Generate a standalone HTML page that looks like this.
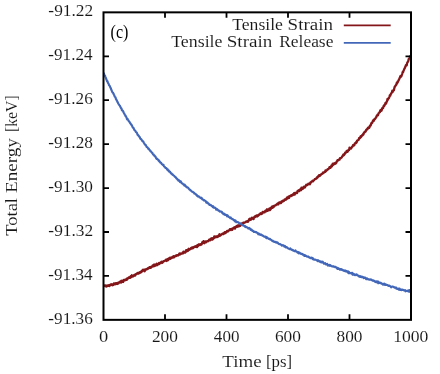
<!DOCTYPE html>
<html><head><meta charset="utf-8"><title>plot</title><style>html,body{margin:0;padding:0;background:#fff}</style></head><body>
<svg width="440" height="374" viewBox="0 0 440 374" style="display:block;will-change:transform">
<rect width="440" height="374" fill="#fff"/>
<g font-family="Liberation Serif, serif" font-size="16.6" fill="#161616" stroke="#fff" stroke-width="0.08">
<text x="48.35" y="16.00" textLength="44.90" lengthAdjust="spacingAndGlyphs">-91.22</text>
<text x="48.36" y="59.93" textLength="44.20" lengthAdjust="spacingAndGlyphs">-91.24</text>
<text x="48.36" y="103.86" textLength="44.45" lengthAdjust="spacingAndGlyphs">-91.26</text>
<text x="48.36" y="147.79" textLength="44.60" lengthAdjust="spacingAndGlyphs">-91.28</text>
<text x="48.36" y="191.71" textLength="44.60" lengthAdjust="spacingAndGlyphs">-91.30</text>
<text x="48.35" y="235.64" textLength="44.90" lengthAdjust="spacingAndGlyphs">-91.32</text>
<text x="48.36" y="279.57" textLength="44.20" lengthAdjust="spacingAndGlyphs">-91.34</text>
<text x="48.36" y="323.50" textLength="44.45" lengthAdjust="spacingAndGlyphs">-91.36</text>
<text x="98.90" y="341.80" textLength="9.20" lengthAdjust="spacingAndGlyphs">0</text>
<text x="151.94" y="341.80" textLength="26.02" lengthAdjust="spacingAndGlyphs">200</text>
<text x="213.87" y="341.80" textLength="25.58" lengthAdjust="spacingAndGlyphs">400</text>
<text x="274.96" y="341.80" textLength="26.01" lengthAdjust="spacingAndGlyphs">600</text>
<text x="336.54" y="341.80" textLength="25.92" lengthAdjust="spacingAndGlyphs">800</text>
<text x="393.15" y="341.80" textLength="35.22" lengthAdjust="spacingAndGlyphs">1000</text>
<text x="222.36" y="367.10" textLength="39.28" lengthAdjust="spacingAndGlyphs">Time</text>
<text x="265.95" y="367.10" textLength="26.20" lengthAdjust="spacingAndGlyphs">[ps]</text>
<g transform="translate(17.2,235.4) rotate(-90)">
<text x="-0.32" y="0.00" textLength="37.68" lengthAdjust="spacingAndGlyphs">Total</text>
<text x="42.35" y="0.00" textLength="55.02" lengthAdjust="spacingAndGlyphs">Energy</text>
<text x="103.33" y="0.00" textLength="36.85" lengthAdjust="spacingAndGlyphs">[keV]</text>
</g>
<text x="232.19" y="29.50" textLength="50.71" lengthAdjust="spacingAndGlyphs">Tensile</text>
<text x="287.63" y="29.50" textLength="45.46" lengthAdjust="spacingAndGlyphs">Strain</text>
<text x="171.19" y="46.90" textLength="51.32" lengthAdjust="spacingAndGlyphs">Tensile</text>
<text x="226.72" y="46.90" textLength="45.67" lengthAdjust="spacingAndGlyphs">Strain</text>
<text x="279.20" y="46.90" textLength="54.21" lengthAdjust="spacingAndGlyphs">Release</text>
</g>
<text x="110.59" y="37.6" font-family="Liberation Serif, serif" font-size="18.5" fill="#000" textLength="17.81" lengthAdjust="spacingAndGlyphs">(c)</text>
<clipPath id="cp"><rect x="103.5" y="12.35" width="307.5" height="307.5"/></clipPath><g clip-path="url(#cp)">
<path d="M103.50,285.90L103.90,286.06L104.30,285.75L104.70,285.41L105.10,285.65L105.50,285.35L105.90,285.93L106.30,286.62L106.70,285.60L107.10,285.50L107.50,286.09L107.90,285.99L108.30,285.81L108.70,285.20L109.10,285.66L109.50,286.01L109.90,284.83L110.30,285.26L110.70,284.41L111.10,284.68L111.50,284.30L111.90,285.11L112.30,284.45L112.70,285.20L113.10,285.02L113.50,284.71L113.90,283.31L114.30,284.26L114.70,284.39L115.10,284.32L115.50,283.26L115.90,283.68L116.30,283.24L116.70,283.18L117.10,284.04L117.50,282.86L117.90,283.12L118.30,283.46L118.70,282.49L119.10,282.58L119.50,282.54L119.90,282.34L120.30,281.46L120.70,282.00L121.10,282.53L121.50,280.75L121.90,281.89L122.30,281.30L122.70,280.70L123.10,281.96L123.50,281.08L123.90,279.81L124.30,280.32L124.70,280.40L125.10,279.78L125.50,280.06L125.90,279.45L126.30,279.65L126.70,279.87L127.10,278.51L127.50,278.78L127.90,278.21L128.30,278.32L128.70,277.39L129.10,277.51L129.50,277.51L129.90,277.90L130.30,277.83L130.70,276.26L131.10,276.34L131.50,276.93L131.90,275.27L132.30,275.90L132.70,275.90L133.10,276.44L133.50,275.93L133.90,275.17L134.30,274.95L134.70,274.81L135.10,275.59L135.50,274.31L135.90,274.18L136.30,274.34L136.70,273.88L137.10,273.64L137.50,272.93L137.90,273.34L138.30,272.89L138.70,273.58L139.10,273.09L139.50,272.51L139.90,272.69L140.30,271.93L140.70,272.49L141.10,271.71L141.50,271.84L141.90,270.61L142.30,271.32L142.70,270.01L143.10,269.64L143.50,270.41L143.90,269.90L144.30,270.30L144.70,271.27L145.10,269.40L145.50,269.33L145.90,269.61L146.30,269.58L146.70,269.04L147.10,268.84L147.50,269.16L147.90,268.88L148.30,267.84L148.70,268.19L149.10,268.07L149.50,267.29L149.90,267.83L150.30,267.04L150.70,267.86L151.10,267.26L151.50,267.02L151.90,266.46L152.30,266.54L152.70,265.33L153.10,265.62L153.50,266.26L153.90,264.71L154.30,266.17L154.70,264.56L155.10,265.76L155.50,264.69L155.90,265.41L156.30,264.87L156.70,263.77L157.10,265.12L157.50,265.05L157.90,264.04L158.30,263.74L158.70,263.62L159.10,262.99L159.50,263.95L159.90,262.87L160.30,262.95L160.70,262.36L161.10,262.27L161.50,261.73L161.90,262.95L162.30,261.99L162.70,262.42L163.10,261.72L163.50,261.15L163.90,261.17L164.30,260.85L164.70,260.98L165.10,260.59L165.50,260.45L165.90,259.67L166.30,259.81L166.70,260.98L167.10,259.52L167.50,259.12L167.90,259.71L168.30,260.11L168.70,258.35L169.10,258.86L169.50,258.44L169.90,257.64L170.30,258.83L170.70,258.23L171.10,258.09L171.50,257.46L171.90,257.94L172.30,257.21L172.70,257.24L173.10,256.53L173.50,256.29L173.90,257.50L174.30,256.31L174.70,256.56L175.10,256.20L175.50,255.79L175.90,255.57L176.30,256.01L176.70,255.32L177.10,255.21L177.50,255.13L177.90,255.58L178.30,255.12L178.70,254.77L179.10,254.06L179.50,253.43L179.90,254.53L180.30,254.35L180.70,253.56L181.10,253.75L181.50,253.69L181.90,253.54L182.30,253.40L182.70,252.46L183.10,253.36L183.50,251.65L183.90,252.63L184.30,252.24L184.70,252.26L185.10,252.63L185.50,252.23L185.90,250.59L186.30,250.11L186.70,251.30L187.10,250.11L187.50,250.47L187.90,250.75L188.30,249.20L188.70,248.76L189.10,249.87L189.50,249.57L189.90,249.22L190.30,249.19L190.70,248.51L191.10,247.96L191.50,248.52L191.90,247.89L192.30,247.33L192.70,248.32L193.10,247.82L193.50,247.89L193.90,246.94L194.30,246.93L194.70,246.56L195.10,246.43L195.50,246.84L195.90,246.11L196.30,246.55L196.70,246.35L197.10,247.09L197.50,245.02L197.90,246.09L198.30,245.36L198.70,245.21L199.10,244.23L199.50,244.59L199.90,245.06L200.30,244.42L200.70,244.32L201.10,243.92L201.50,244.53L201.90,243.69L202.30,242.30L202.70,242.94L203.10,242.05L203.50,241.15L203.90,242.46L204.30,243.29L204.70,242.40L205.10,241.53L205.50,241.47L205.90,242.42L206.30,241.69L206.70,241.44L207.10,241.19L207.50,241.05L207.90,241.28L208.30,240.95L208.70,240.57L209.10,239.69L209.50,240.35L209.90,239.50L210.30,240.29L210.70,238.79L211.10,239.22L211.50,239.10L211.90,238.18L212.30,239.67L212.70,239.33L213.10,238.08L213.50,238.56L213.90,238.15L214.30,236.31L214.70,237.69L215.10,237.33L215.50,237.21L215.90,236.38L216.30,236.63L216.70,236.49L217.10,237.04L217.50,236.38L217.90,235.99L218.30,236.64L218.70,235.30L219.10,235.20L219.50,234.22L219.90,235.88L220.30,235.35L220.70,235.13L221.10,234.80L221.50,234.29L221.90,234.15L222.30,233.70L222.70,233.53L223.10,233.47L223.50,234.08L223.90,233.35L224.30,232.82L224.70,232.33L225.10,232.10L225.50,233.14L225.90,232.34L226.30,231.89L226.70,231.47L227.10,230.85L227.50,231.22L227.90,231.54L228.30,230.64L228.70,230.54L229.10,230.34L229.50,230.32L229.90,229.18L230.30,229.73L230.70,229.19L231.10,229.94L231.50,228.83L231.90,229.37L232.30,229.69L232.70,228.48L233.10,228.12L233.50,228.35L233.90,228.04L234.30,227.29L234.70,227.89L235.10,228.54L235.50,227.09L235.90,226.92L236.30,226.25L236.70,226.80L237.10,225.73L237.50,225.60L237.90,226.71L238.30,225.30L238.70,226.19L239.10,226.23L239.50,225.33L239.90,225.28L240.30,225.85L240.70,224.46L241.10,224.03L241.50,223.41L241.90,223.97L242.30,224.55L242.70,224.06L243.10,222.81L243.50,222.65L243.90,222.63L244.30,222.86L244.70,222.38L245.10,222.40L245.50,222.24L245.90,221.70L246.30,221.63L246.70,221.56L247.10,221.19L247.50,221.30L247.90,221.84L248.30,220.93L248.70,220.42L249.10,219.25L249.50,220.18L249.90,218.68L250.30,218.77L250.70,219.80L251.10,219.50L251.50,218.82L251.90,217.75L252.30,218.27L252.70,217.89L253.10,218.40L253.50,219.07L253.90,217.74L254.30,216.97L254.70,216.54L255.10,216.94L255.50,216.66L255.90,215.90L256.30,216.38L256.70,215.47L257.10,216.50L257.50,216.25L257.90,216.05L258.30,214.97L258.70,215.30L259.10,214.72L259.50,214.36L259.90,214.17L260.30,213.42L260.70,213.12L261.10,214.13L261.50,213.37L261.90,213.37L262.30,213.58L262.70,211.85L263.10,212.15L263.50,212.46L263.90,212.35L264.30,211.71L264.70,212.26L265.10,211.58L265.50,210.57L265.90,210.50L266.30,211.23L266.70,210.82L267.10,209.29L267.50,210.85L267.90,210.21L268.30,210.40L268.70,209.22L269.10,209.04L269.50,208.35L269.90,210.14L270.30,208.42L270.70,209.16L271.10,207.70L271.50,207.91L271.90,206.67L272.30,207.15L272.70,207.67L273.10,206.21L273.50,207.25L273.90,206.62L274.30,205.62L274.70,205.69L275.10,205.48L275.50,205.47L275.90,204.97L276.30,204.57L276.70,204.62L277.10,203.99L277.50,203.60L277.90,204.05L278.30,204.32L278.70,202.76L279.10,203.36L279.50,202.76L279.90,202.34L280.30,203.11L280.70,202.11L281.10,202.98L281.50,201.49L281.90,201.89L282.30,201.31L282.70,200.77L283.10,201.27L283.50,200.61L283.90,200.79L284.30,200.18L284.70,199.37L285.10,199.66L285.50,199.50L285.90,199.75L286.30,198.47L286.70,198.70L287.10,197.53L287.50,198.58L287.90,197.38L288.30,196.73L288.70,197.44L289.10,197.83L289.50,196.13L289.90,196.12L290.30,196.05L290.70,195.58L291.10,196.16L291.50,195.25L291.90,195.04L292.30,195.50L292.70,194.51L293.10,194.91L293.50,193.87L293.90,193.48L294.30,192.88L294.70,194.65L295.10,193.19L295.50,193.24L295.90,192.83L296.30,192.67L296.70,192.34L297.10,193.10L297.50,191.22L297.90,190.66L298.30,190.70L298.70,190.25L299.10,191.13L299.50,190.90L299.90,189.65L300.30,189.15L300.70,189.45L301.10,190.14L301.50,187.55L301.90,189.11L302.30,187.96L302.70,188.85L303.10,187.41L303.50,187.57L303.90,186.62L304.30,186.64L304.70,187.66L305.10,187.07L305.50,186.12L305.90,185.58L306.30,184.73L306.70,185.28L307.10,185.19L307.50,184.88L307.90,184.59L308.30,183.74L308.70,184.04L309.10,183.76L309.50,184.21L309.90,184.24L310.30,182.84L310.70,182.21L311.10,182.30L311.50,181.71L311.90,181.35L312.30,181.43L312.70,180.59L313.10,181.20L313.50,180.52L313.90,180.42L314.30,179.88L314.70,179.28L315.10,178.86L315.50,178.95L315.90,178.48L316.30,178.60L316.70,178.17L317.10,177.12L317.50,177.60L317.90,176.52L318.30,176.61L318.70,176.48L319.10,175.19L319.50,176.07L319.90,175.79L320.30,175.31L320.70,174.85L321.10,174.56L321.50,173.92L321.90,173.99L322.30,173.51L322.70,173.55L323.10,172.52L323.50,172.99L323.90,172.62L324.30,172.14L324.70,171.65L325.10,171.87L325.50,170.32L325.90,171.16L326.30,170.72L326.70,170.41L327.10,170.13L327.50,169.23L327.90,169.11L328.30,169.27L328.70,168.82L329.10,168.36L329.50,167.08L329.90,167.87L330.30,167.87L330.70,167.44L331.10,166.67L331.50,165.35L331.90,166.37L332.30,165.43L332.70,163.77L333.10,165.02L333.50,163.64L333.90,163.40L334.30,163.41L334.70,164.10L335.10,162.84L335.50,162.84L335.90,163.29L336.30,162.85L336.70,161.55L337.10,161.11L337.50,160.19L337.90,160.14L338.30,160.38L338.70,160.00L339.10,159.47L339.50,159.59L339.90,158.24L340.30,158.26L340.70,158.32L341.10,157.86L341.50,157.75L341.90,157.00L342.30,156.23L342.70,156.22L343.10,155.08L343.50,154.35L343.90,155.18L344.30,154.44L344.70,154.25L345.10,152.75L345.50,153.09L345.90,152.57L346.30,152.02L346.70,150.86L347.10,151.52L347.50,151.79L347.90,151.10L348.30,150.16L348.70,150.07L349.10,150.09L349.50,147.74L349.90,148.78L350.30,148.73L350.70,148.39L351.10,148.53L351.50,147.80L351.90,146.93L352.30,146.50L352.70,146.34L353.10,145.18L353.50,145.03L353.90,145.12L354.30,145.26L354.70,143.66L355.10,143.29L355.50,142.99L355.90,143.17L356.30,141.98L356.70,142.36L357.10,140.57L357.50,140.55L357.90,140.09L358.30,140.18L358.70,139.87L359.10,138.01L359.50,137.88L359.90,138.10L360.30,137.09L360.70,136.15L361.10,137.09L361.50,136.32L361.90,135.85L362.30,134.85L362.70,135.20L363.10,134.02L363.50,134.27L363.90,132.69L364.30,132.23L364.70,132.33L365.10,131.34L365.50,131.60L365.90,130.88L366.30,129.73L366.70,129.78L367.10,129.05L367.50,129.24L367.90,127.88L368.30,127.48L368.70,127.87L369.10,127.93L369.50,127.28L369.90,125.69L370.30,125.26L370.70,125.46L371.10,124.02L371.50,123.02L371.90,123.09L372.30,122.74L372.70,121.50L373.10,120.51L373.50,120.08L373.90,120.69L374.30,119.36L374.70,119.15L375.10,118.79L375.50,118.45L375.90,117.37L376.30,117.27L376.70,115.94L377.10,115.66L377.50,114.72L377.90,115.34L378.30,114.12L378.70,113.15L379.10,112.78L379.50,112.27L379.90,112.18L380.30,110.33L380.70,110.04L381.10,109.81L381.50,110.80L381.90,109.33L382.30,108.14L382.70,107.98L383.10,108.11L383.50,106.23L383.90,105.53L384.30,105.78L384.70,104.76L385.10,104.22L385.50,102.94L385.90,103.64L386.30,102.88L386.70,101.61L387.10,101.02L387.50,98.88L387.90,99.69L388.30,98.58L388.70,98.26L389.10,97.73L389.50,96.50L389.90,95.08L390.30,95.54L390.70,94.25L391.10,93.79L391.50,92.95L391.90,92.40L392.30,90.63L392.70,91.87L393.10,90.63L393.50,90.40L393.90,90.16L394.30,88.37L394.70,86.65L395.10,86.43L395.50,85.53L395.90,85.18L396.30,84.77L396.70,82.88L397.10,83.43L397.50,81.66L397.90,81.90L398.30,80.92L398.70,80.05L399.10,79.42L399.50,78.39L399.90,77.58L400.30,76.21L400.70,76.34L401.10,76.58L401.50,75.86L401.90,74.70L402.30,73.56L402.70,72.00L403.10,72.35L403.50,70.71L403.90,69.88L404.30,68.94L404.70,68.32L405.10,67.19L405.50,66.55L405.90,65.15L406.30,64.70L406.70,65.30L407.10,63.15L407.50,62.19L407.90,61.75L408.30,60.97L408.70,59.09L409.10,58.70L409.50,58.43L409.90,57.18L410.30,56.20L410.70,56.09" fill="none" stroke="#84161a" stroke-width="2.3" stroke-linejoin="round"/>
<path d="M103.50,72.57L103.90,73.73L104.30,74.44L104.70,76.01L105.10,75.77L105.50,77.09L105.90,78.03L106.30,79.31L106.70,80.17L107.10,81.30L107.50,81.19L107.90,82.82L108.30,83.34L108.70,84.07L109.10,85.31L109.50,85.67L109.90,86.13L110.30,87.52L110.70,87.98L111.10,89.08L111.50,90.23L111.90,91.02L112.30,92.25L112.70,92.46L113.10,92.82L113.50,93.87L113.90,94.60L114.30,95.28L114.70,96.61L115.10,97.02L115.50,97.35L115.90,99.00L116.30,99.49L116.70,100.40L117.10,101.07L117.50,101.99L117.90,102.53L118.30,103.66L118.70,104.13L119.10,104.85L119.50,105.58L119.90,105.68L120.30,106.82L120.70,107.50L121.10,108.36L121.50,108.55L121.90,110.24L122.30,110.43L122.70,110.69L123.10,111.21L123.50,112.36L123.90,113.11L124.30,113.57L124.70,114.51L125.10,114.94L125.50,116.00L125.90,116.24L126.30,117.12L126.70,118.11L127.10,119.28L127.50,118.75L127.90,119.57L128.30,120.08L128.70,121.26L129.10,121.25L129.50,122.10L129.90,122.87L130.30,123.18L130.70,123.81L131.10,124.58L131.50,124.65L131.90,125.48L132.30,126.42L132.70,127.21L133.10,127.70L133.50,127.77L133.90,128.79L134.30,129.80L134.70,130.31L135.10,130.68L135.50,130.99L135.90,132.07L136.30,132.24L136.70,132.62L137.10,133.31L137.50,134.62L137.90,134.77L138.30,135.64L138.70,135.66L139.10,136.68L139.50,136.72L139.90,137.41L140.30,138.83L140.70,138.80L141.10,138.93L141.50,139.60L141.90,140.27L142.30,141.09L142.70,141.06L143.10,141.17L143.50,142.18L143.90,142.80L144.30,143.35L144.70,144.26L145.10,144.44L145.50,145.12L145.90,144.99L146.30,146.15L146.70,147.06L147.10,147.12L147.50,147.45L147.90,147.91L148.30,148.94L148.70,148.54L149.10,149.30L149.50,149.97L149.90,150.55L150.30,150.64L150.70,151.37L151.10,151.65L151.50,152.26L151.90,152.65L152.30,152.79L152.70,153.63L153.10,154.39L153.50,154.24L153.90,154.95L154.30,155.71L154.70,155.59L155.10,156.46L155.50,156.50L155.90,157.68L156.30,158.52L156.70,158.87L157.10,158.58L157.50,159.34L157.90,159.58L158.30,160.01L158.70,160.92L159.10,160.41L159.50,161.63L159.90,161.70L160.30,162.61L160.70,162.64L161.10,162.78L161.50,163.52L161.90,164.09L162.30,164.28L162.70,164.85L163.10,164.94L163.50,164.82L163.90,166.24L164.30,166.58L164.70,166.81L165.10,167.19L165.50,167.92L165.90,167.83L166.30,168.16L166.70,168.73L167.10,169.58L167.50,169.13L167.90,170.38L168.30,170.17L168.70,170.42L169.10,171.59L169.50,171.53L169.90,171.52L170.30,172.22L170.70,173.03L171.10,173.50L171.50,173.35L171.90,174.01L172.30,174.49L172.70,174.42L173.10,175.13L173.50,175.38L173.90,175.59L174.30,175.97L174.70,176.53L175.10,176.89L175.50,177.06L175.90,177.47L176.30,178.35L176.70,178.41L177.10,179.00L177.50,179.47L177.90,179.62L178.30,180.54L178.70,179.87L179.10,180.77L179.50,180.75L179.90,181.82L180.30,182.13L180.70,181.27L181.10,181.95L181.50,182.83L181.90,183.22L182.30,183.55L182.70,183.63L183.10,184.15L183.50,184.55L183.90,184.66L184.30,185.36L184.70,184.61L185.10,185.91L185.50,185.69L185.90,186.69L186.30,186.63L186.70,186.74L187.10,187.49L187.50,187.40L187.90,187.73L188.30,187.84L188.70,188.68L189.10,189.17L189.50,189.67L189.90,189.61L190.30,190.33L190.70,190.31L191.10,190.59L191.50,191.13L191.90,191.61L192.30,191.47L192.70,191.82L193.10,192.16L193.50,192.56L193.90,192.54L194.30,193.49L194.70,193.33L195.10,193.93L195.50,193.81L195.90,194.51L196.30,194.83L196.70,194.87L197.10,195.98L197.50,195.74L197.90,196.51L198.30,196.54L198.70,196.31L199.10,196.70L199.50,197.27L199.90,197.45L200.30,197.74L200.70,197.93L201.10,197.72L201.50,198.54L201.90,198.17L202.30,199.32L202.70,199.25L203.10,199.55L203.50,200.00L203.90,200.45L204.30,200.18L204.70,200.36L205.10,200.88L205.50,200.84L205.90,201.48L206.30,202.61L206.70,202.02L207.10,202.87L207.50,202.48L207.90,203.32L208.30,203.39L208.70,203.76L209.10,204.24L209.50,204.91L209.90,204.68L210.30,204.93L210.70,204.84L211.10,205.63L211.50,205.63L211.90,206.26L212.30,206.25L212.70,207.11L213.10,206.15L213.50,206.98L213.90,207.64L214.30,207.50L214.70,207.62L215.10,208.06L215.50,207.96L215.90,208.72L216.30,209.76L216.70,209.59L217.10,209.11L217.50,209.45L217.90,209.87L218.30,210.60L218.70,210.26L219.10,210.56L219.50,211.34L219.90,211.59L220.30,211.44L220.70,211.46L221.10,211.57L221.50,212.11L221.90,211.86L222.30,213.10L222.70,212.90L223.10,213.52L223.50,214.23L223.90,214.25L224.30,213.74L224.70,214.65L225.10,215.00L225.50,214.62L225.90,214.80L226.30,215.33L226.70,215.09L227.10,216.35L227.50,215.32L227.90,215.99L228.30,216.51L228.70,216.77L229.10,217.15L229.50,217.42L229.90,217.51L230.30,218.20L230.70,217.36L231.10,218.31L231.50,218.31L231.90,218.83L232.30,219.10L232.70,218.97L233.10,219.29L233.50,220.00L233.90,220.10L234.30,219.99L234.70,221.13L235.10,221.45L235.50,220.44L235.90,221.26L236.30,222.22L236.70,221.89L237.10,221.94L237.50,222.03L237.90,222.15L238.30,222.49L238.70,222.61L239.10,223.27L239.50,223.12L239.90,223.34L240.30,223.31L240.70,223.92L241.10,223.87L241.50,224.33L241.90,224.96L242.30,224.97L242.70,225.24L243.10,225.42L243.50,225.54L243.90,225.71L244.30,225.87L244.70,226.45L245.10,226.06L245.50,227.08L245.90,226.88L246.30,226.84L246.70,227.15L247.10,227.30L247.50,227.80L247.90,227.73L248.30,228.56L248.70,228.15L249.10,227.87L249.50,228.60L249.90,228.40L250.30,229.26L250.70,229.84L251.10,229.92L251.50,229.48L251.90,229.89L252.30,230.94L252.70,230.67L253.10,230.78L253.50,231.34L253.90,232.02L254.30,231.85L254.70,231.68L255.10,231.96L255.50,232.26L255.90,232.06L256.30,232.13L256.70,232.70L257.10,232.58L257.50,233.09L257.90,233.35L258.30,234.30L258.70,233.45L259.10,233.90L259.50,234.09L259.90,234.50L260.30,234.90L260.70,234.60L261.10,234.70L261.50,234.63L261.90,235.07L262.30,235.76L262.70,235.80L263.10,235.65L263.50,236.07L263.90,236.41L264.30,236.76L264.70,236.60L265.10,236.92L265.50,236.60L265.90,237.02L266.30,238.14L266.70,237.08L267.10,237.89L267.50,238.27L267.90,238.28L268.30,238.33L268.70,238.78L269.10,238.99L269.50,239.16L269.90,238.77L270.30,239.54L270.70,239.50L271.10,239.80L271.50,240.25L271.90,240.58L272.30,240.86L272.70,240.59L273.10,241.25L273.50,241.53L273.90,241.71L274.30,241.99L274.70,241.67L275.10,241.86L275.50,242.38L275.90,241.85L276.30,242.56L276.70,242.50L277.10,242.75L277.50,242.48L277.90,242.96L278.30,243.43L278.70,243.92L279.10,244.14L279.50,243.98L279.90,244.13L280.30,244.11L280.70,244.70L281.10,244.67L281.50,245.14L281.90,245.71L282.30,245.30L282.70,245.01L283.10,245.40L283.50,245.39L283.90,245.66L284.30,246.67L284.70,246.50L285.10,246.11L285.50,247.01L285.90,247.39L286.30,247.04L286.70,247.12L287.10,247.41L287.50,247.80L287.90,248.10L288.30,248.46L288.70,248.65L289.10,248.82L289.50,249.06L289.90,249.01L290.30,248.46L290.70,249.10L291.10,249.43L291.50,249.38L291.90,249.98L292.30,249.74L292.70,249.73L293.10,250.69L293.50,250.61L293.90,250.64L294.30,251.05L294.70,251.28L295.10,251.21L295.50,250.47L295.90,251.23L296.30,251.48L296.70,251.48L297.10,252.04L297.50,252.55L297.90,252.17L298.30,252.13L298.70,253.34L299.10,252.70L299.50,252.61L299.90,253.27L300.30,253.50L300.70,253.30L301.10,253.97L301.50,253.72L301.90,253.75L302.30,254.28L302.70,254.65L303.10,254.35L303.50,254.84L303.90,254.87L304.30,256.00L304.70,255.01L305.10,255.87L305.50,255.56L305.90,255.71L306.30,256.15L306.70,256.38L307.10,256.67L307.50,256.53L307.90,256.39L308.30,256.58L308.70,257.09L309.10,257.28L309.50,257.71L309.90,257.56L310.30,257.93L310.70,258.25L311.10,257.97L311.50,257.59L311.90,257.85L312.30,257.93L312.70,259.10L313.10,258.45L313.50,259.30L313.90,259.25L314.30,259.79L314.70,259.72L315.10,259.52L315.50,259.65L315.90,259.90L316.30,260.09L316.70,260.02L317.10,260.35L317.50,261.05L317.90,260.12L318.30,260.92L318.70,260.70L319.10,261.22L319.50,261.60L319.90,261.46L320.30,261.89L320.70,261.27L321.10,262.32L321.50,261.91L321.90,262.48L322.30,262.49L322.70,261.73L323.10,262.50L323.50,262.97L323.90,263.57L324.30,263.31L324.70,263.46L325.10,263.06L325.50,264.16L325.90,264.44L326.30,264.01L326.70,264.08L327.10,263.77L327.50,264.75L327.90,265.51L328.30,265.01L328.70,265.34L329.10,265.26L329.50,264.91L329.90,265.83L330.30,265.13L330.70,265.62L331.10,265.94L331.50,266.29L331.90,266.29L332.30,266.43L332.70,266.20L333.10,266.18L333.50,266.78L333.90,266.67L334.30,266.63L334.70,266.79L335.10,267.20L335.50,266.90L335.90,267.21L336.30,267.27L336.70,268.02L337.10,268.24L337.50,268.92L337.90,267.91L338.30,268.33L338.70,269.00L339.10,268.78L339.50,268.89L339.90,269.71L340.30,269.18L340.70,269.06L341.10,269.15L341.50,269.85L341.90,269.98L342.30,269.58L342.70,269.85L343.10,270.50L343.50,270.66L343.90,270.40L344.30,270.96L344.70,271.09L345.10,270.46L345.50,271.09L345.90,271.47L346.30,271.29L346.70,270.92L347.10,271.68L347.50,272.16L347.90,272.58L348.30,271.48L348.70,273.21L349.10,272.11L349.50,272.94L349.90,273.18L350.30,273.24L350.70,273.11L351.10,272.81L351.50,273.55L351.90,273.24L352.30,272.79L352.70,274.70L353.10,274.14L353.50,274.64L353.90,273.88L354.30,274.81L354.70,274.99L355.10,275.12L355.50,274.74L355.90,274.49L356.30,274.96L356.70,274.44L357.10,274.74L357.50,275.47L357.90,275.25L358.30,275.66L358.70,275.82L359.10,276.63L359.50,276.56L359.90,276.25L360.30,276.80L360.70,276.28L361.10,276.57L361.50,277.12L361.90,276.54L362.30,277.00L362.70,276.79L363.10,277.40L363.50,278.03L363.90,277.38L364.30,277.84L364.70,277.60L365.10,277.66L365.50,277.76L365.90,278.78L366.30,279.22L366.70,278.73L367.10,278.47L367.50,279.07L367.90,278.86L368.30,279.37L368.70,279.34L369.10,279.47L369.50,279.71L369.90,279.45L370.30,279.64L370.70,279.34L371.10,279.89L371.50,279.70L371.90,280.25L372.30,280.12L372.70,280.60L373.10,280.84L373.50,280.36L373.90,280.69L374.30,280.77L374.70,281.46L375.10,281.91L375.50,281.76L375.90,281.49L376.30,282.22L376.70,281.37L377.10,282.49L377.50,281.91L377.90,281.34L378.30,283.26L378.70,283.03L379.10,282.30L379.50,282.82L379.90,282.82L380.30,283.06L380.70,282.66L381.10,283.05L381.50,283.56L381.90,283.61L382.30,284.05L382.70,283.81L383.10,284.69L383.50,283.80L383.90,284.25L384.30,283.66L384.70,284.00L385.10,284.98L385.50,284.36L385.90,284.97L386.30,284.90L386.70,284.70L387.10,285.05L387.50,285.12L387.90,285.26L388.30,285.79L388.70,285.88L389.10,285.60L389.50,285.61L389.90,286.13L390.30,286.13L390.70,286.62L391.10,287.28L391.50,286.81L391.90,286.64L392.30,286.72L392.70,286.62L393.10,286.72L393.50,286.81L393.90,287.13L394.30,287.25L394.70,287.75L395.10,287.50L395.50,287.69L395.90,287.48L396.30,288.55L396.70,288.30L397.10,288.85L397.50,288.64L397.90,289.00L398.30,288.56L398.70,289.00L399.10,289.79L399.50,288.62L399.90,289.53L400.30,289.83L400.70,289.53L401.10,289.76L401.50,290.05L401.90,289.52L402.30,289.99L402.70,289.67L403.10,289.85L403.50,289.98L403.90,290.24L404.30,290.44L404.70,290.64L405.10,290.09L405.50,291.33L405.90,291.13L406.30,291.06L406.70,290.75L407.10,290.87L407.50,291.10L407.90,291.05L408.30,290.32L408.70,291.09L409.10,291.76L409.50,290.07L409.90,290.93L410.30,290.61L410.70,290.34" fill="none" stroke="#4367b8" stroke-width="2.15" stroke-linejoin="round"/>
</g>
<line x1="343.8" x2="390.7" y1="25.4" y2="25.4" stroke="#84161a" stroke-width="1.8"/>
<line x1="343.8" x2="390.7" y1="42.85" y2="42.85" stroke="#4367b8" stroke-width="1.8"/>
<path d="M103.5,56.28h5.5M411,56.28h-5.5M103.5,100.21h5.5M411,100.21h-5.5M103.5,144.14h5.5M411,144.14h-5.5M103.5,188.06h5.5M411,188.06h-5.5M103.5,231.99h5.5M411,231.99h-5.5M103.5,275.92h5.5M411,275.92h-5.5M165.00,319.85v-5.5M165.00,12.35v5.5M226.50,319.85v-5.5M226.50,12.35v5.5M288.00,319.85v-5.5M288.00,12.35v5.5M349.50,319.85v-5.5M349.50,12.35v5.5" stroke="#000" stroke-width="1.8" fill="none"/>
<rect x="103.5" y="12.35" width="307.5" height="307.5" fill="none" stroke="#000" stroke-width="2"/>
</svg>
</body></html>
